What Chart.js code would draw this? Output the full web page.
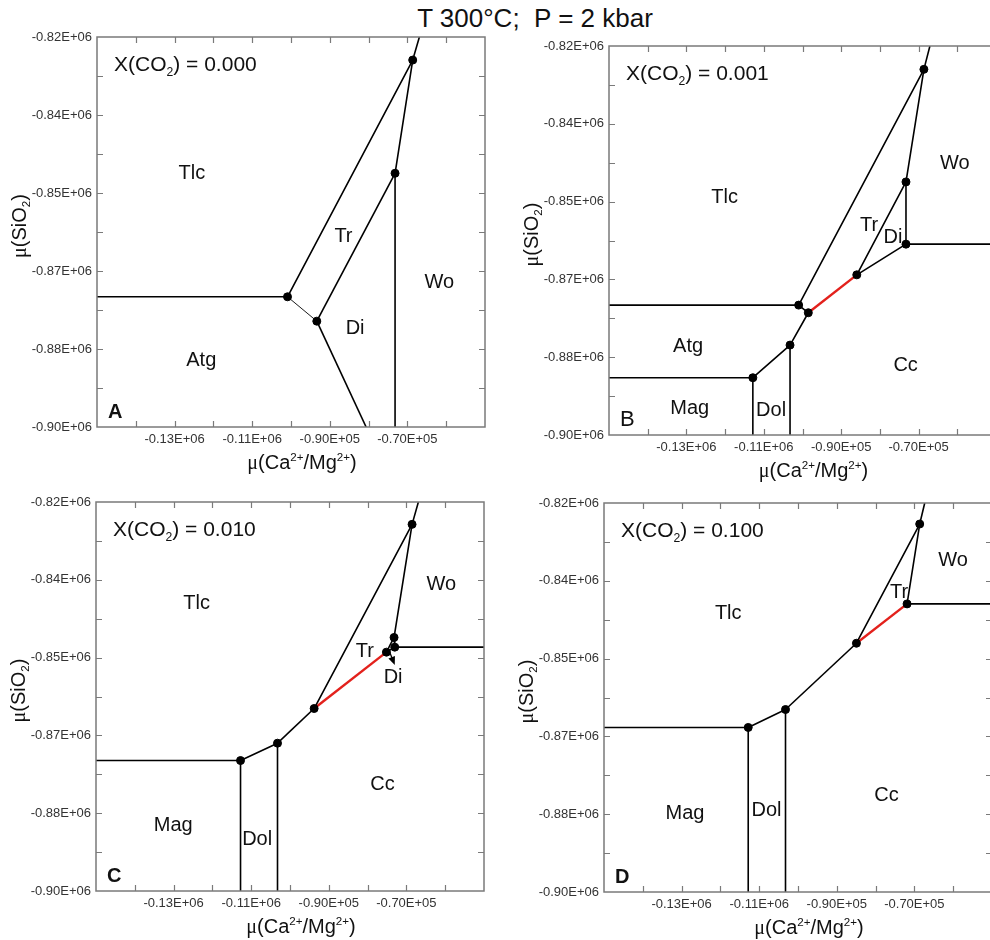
<!DOCTYPE html>
<html lang="en">
<head>
  <meta charset="UTF-8" />
  <title>T 300°C; P = 2 kbar</title>
  <script src="https://cdn.jsdelivr.net/npm/chart.js"></script>
  <style>
    html, body { margin: 0; padding: 0; background: #fff; overflow: hidden; }
    body { width: 990px; height: 940px; position: relative; }
    .title {
      position: absolute; left: 335px; width: 400px; top: 3px;
      text-align: center; white-space: pre;
      font: 26px "Liberation Sans", Arial, sans-serif; line-height: 30px; color: #111;
    }
    canvas { position: absolute; }
  </style>
</head>
<body>
  <div class="title">T 300°C;  P = 2 kbar</div>
  <canvas id="panelA" width="495" height="482" style="left:0;top:0"></canvas>
  <canvas id="panelB" width="510" height="482" style="left:495px;top:0"></canvas>
  <canvas id="panelC" width="495" height="470" style="left:0;top:470px"></canvas>
  <canvas id="panelD" width="510" height="470" style="left:495px;top:470px"></canvas>

<script>
  // axes (same for every panel)
  const xRange = [-150000, -50000];
  const yRange = [-900000, -820000];
  const xTickVals = [-130000, -110000, -90000, -70000];
  const xTickText = ['-0.13E+06', '-0.11E+06', '-0.90E+05', '-0.70E+05'];
  const yTickVals = [-820000, -836000, -852000, -868000, -884000, -900000];
  const yTickText = ['-0.82E+06', '-0.84E+06', '-0.85E+06', '-0.87E+06', '-0.88E+06', '-0.90E+06'];
  const xco2 = ['0.000', '0.001', '0.010', '0.100'];

  // Panel A, X(CO2) = 0.000
  const dotsA = [[-100900, -873290], [-93350, -878290], [-68630, -824730], [-73180, -847950]];
  const linesA = [
    [[-150000, -873290], [-100900, -873290]],
    [[-93350, -878290], [-80640, -900000]],
    [[-100900, -873290], [-68630, -824730], [-66910, -820000]],
    [[-68630, -824730], [-73180, -847950], [-73180, -900000]],
    [[-93350, -878290], [-73180, -847950]]
  ];
  const thinA = [[[-100900, -873290], [-93350, -878290]]];
  const redA = [];
  const namesA = ['Tlc', 'Tr', 'Di', 'Wo', 'Atg'];
  const nameXA = [-125540, -86480, -83480, -61760, -123130];
  const nameYA = [-847950, -860960, -879800, -870410, -886300];

  // Panel B, X(CO2) = 0.001
  const dotsB = [[-100990, -873290], [-68630, -824800], [-98500, -874860], [-85970, -867060],
                 [-73260, -847950], [-73260, -860750], [-103220, -881510], [-112830, -888220]];
  const linesB = [
    [[-150000, -873290], [-100990, -873290], [-68630, -824800], [-67080, -820000]],
    [[-100990, -873290], [-98500, -874860]],
    [[-85970, -867060], [-73260, -847950], [-68630, -824800]],
    [[-85970, -867060], [-73260, -860750], [-50000, -860750]],
    [[-73260, -847950], [-73260, -860750]],
    [[-98500, -874860], [-103220, -881510], [-103220, -900000]],
    [[-103220, -881510], [-112830, -888220], [-150000, -888220]],
    [[-112830, -888220], [-112830, -900000]]
  ];
  const thinB = [];
  const redB = [[[-98500, -874860], [-85970, -867060]]];
  const namesB = ['Tlc', 'Wo', 'Tr', 'Di', 'Atg', 'Cc', 'Mag', 'Dol'];
  const nameXB = [-120130, -60640, -82790, -76610, -129570, -73350, -129140, -108110];
  const nameYB = [-851230, -844180, -856850, -859380, -881850, -885620, -894520, -895000];

  // Panel C, X(CO2) = 0.010
  const dotsC = [[-112750, -873170], [-103220, -869600], [-93780, -862470], [-75150, -850880],
                 [-68540, -824600], [-73180, -847860], [-73000, -849850]];
  const linesC = [
    [[-150000, -873170], [-112750, -873170], [-112750, -900000]],
    [[-112750, -873170], [-103220, -869600], [-103220, -900000]],
    [[-103220, -869600], [-93780, -862470]],
    [[-93780, -862470], [-68540, -824600], [-66910, -820000]],
    [[-68540, -824600], [-73180, -847860], [-73000, -849850], [-50000, -849850]],
    [[-75150, -850880], [-73180, -847860]],
    [[-75150, -850880], [-73000, -849850]]
  ];
  const thinC = [];
  const redC = [[[-93780, -862470], [-75150, -850880]]];
  const namesC = ['Tlc', 'Wo', 'Tr', 'Di', 'Cc', 'Mag', 'Dol'];
  const nameXC = [-124080, -60990, -80730, -73430, -76180, -130090, -108460];
  const nameYC = [-840790, -837020, -850740, -856020, -878050, -886620, -889500];
  const arrowC = [-74300, -850900, -73000, -853500];

  // Panel D, X(CO2) = 0.100
  const dotsD = [[-112830, -866160], [-103220, -862470], [-84940, -848840], [-71890, -840750], [-68630, -824320]];
  const linesD = [
    [[-150000, -866160], [-112830, -866160], [-112830, -900000]],
    [[-112830, -866160], [-103220, -862470], [-103220, -900000]],
    [[-103220, -862470], [-84940, -848840]],
    [[-84940, -848840], [-68630, -824320], [-67340, -820000]],
    [[-68630, -824320], [-71890, -840750], [-50000, -840750]]
  ];
  const thinD = [];
  const redD = [[[-84940, -848840], [-71890, -840750]]];
  const namesD = ['Tlc', 'Wo', 'Tr', 'Cc', 'Mag', 'Dol'];
  const nameXD = [-117980, -60040, -73950, -77210, -129140, -108110];
  const nameYD = [-842740, -831780, -838490, -880070, -883840, -883150];

  const SANS = '"Liberation Sans", Arial, sans-serif';
  const SERIF = '"Liberation Serif", "Times New Roman", serif';
  const FRAME = '#7a7a7a';

  // draws text made of pieces: [text, kind] with kind n / mu / sub / sup
  function richText(ctx, parts, x, y, size, center) {
    const fontFor = k => (k === 'sub' || k === 'sup') ? (size * 0.58) + 'px ' + SANS
      : k === 'mu' ? size + 'px ' + SERIF : size + 'px ' + SANS;
    let w = 0;
    parts.forEach(p => { ctx.font = fontFor(p[1]); w += ctx.measureText(p[0]).width; });
    let cx = center ? x - w / 2 : x;
    ctx.textAlign = 'left';
    ctx.textBaseline = 'alphabetic';
    parts.forEach(p => {
      ctx.font = fontFor(p[1]);
      const dy = p[1] === 'sub' ? size * 0.22 : p[1] === 'sup' ? -size * 0.42 : 0;
      ctx.fillText(p[0], cx, y + dy);
      cx += ctx.measureText(p[0]).width;
    });
  }

  function toPts(line) {
    return line.map(p => ({ x: p[0], y: p[1] }));
  }

  function makePanel(id, area, dots, lines, thin, red, names, nx, ny, letter, letterBold, co2, arrow) {
    const cv = document.getElementById(id);
    const W = cv.width, H = cv.height;

    const datasets = [{
      data: toPts(dots), showLine: false, pointRadius: 4, pointHoverRadius: 4,
      pointBackgroundColor: '#000', pointBorderColor: '#000', order: 0
    }];
    lines.forEach(l => datasets.push({
      data: toPts(l), showLine: true, borderColor: '#000', borderWidth: 1.6,
      pointRadius: 0, borderJoinStyle: 'round', order: 2
    }));
    thin.forEach(l => datasets.push({
      data: toPts(l), showLine: true, borderColor: '#000', borderWidth: 0.9,
      pointRadius: 0, order: 2
    }));
    red.forEach(l => datasets.push({
      data: toPts(l), showLine: true, borderColor: '#e3211c', borderWidth: 2.4,
      pointRadius: 0, order: 1
    }));

    const decor = {
      id: 'decor',
      afterDatasetsDraw(chart) {
        const ctx = chart.ctx, a = chart.chartArea;
        const xs = chart.scales.x, ys = chart.scales.y;
        ctx.save();
        // frame + inward ticks
        ctx.strokeStyle = FRAME;
        ctx.lineWidth = 1.5;
        ctx.strokeRect(a.left, a.top, a.right - a.left, a.bottom - a.top);
        ctx.lineWidth = 1.2;
        ctx.beginPath();
        xs.ticks.forEach(t => {
          if (t.value <= xRange[0] || t.value >= xRange[1]) return;
          const px = Math.round(xs.getPixelForValue(t.value)) + 0.5;
          ctx.moveTo(px, a.bottom); ctx.lineTo(px, a.bottom - 6);
          ctx.moveTo(px, a.top); ctx.lineTo(px, a.top + 6);
        });
        ys.ticks.forEach(t => {
          if (t.value <= yRange[0] || t.value >= yRange[1]) return;
          const py = Math.round(ys.getPixelForValue(t.value)) + 0.5;
          ctx.moveTo(a.left, py); ctx.lineTo(a.left + 6, py);
          ctx.moveTo(a.right, py); ctx.lineTo(a.right - 6, py);
        });
        ctx.stroke();

        // field names
        ctx.fillStyle = '#111';
        ctx.font = '20px ' + SANS;
        ctx.textAlign = 'center';
        ctx.textBaseline = 'middle';
        names.forEach((n, i) => {
          ctx.fillText(n, xs.getPixelForValue(nx[i]), ys.getPixelForValue(ny[i]));
        });

        // arrow pointing at the Di field
        if (arrow) {
          const x1 = xs.getPixelForValue(arrow[0]), y1 = ys.getPixelForValue(arrow[1]);
          const x2 = xs.getPixelForValue(arrow[2]), y2 = ys.getPixelForValue(arrow[3]);
          const ang = Math.atan2(y2 - y1, x2 - x1);
          ctx.strokeStyle = '#000';
          ctx.lineWidth = 1.3;
          ctx.beginPath(); ctx.moveTo(x1, y1); ctx.lineTo(x2 - 5 * Math.cos(ang), y2 - 5 * Math.sin(ang)); ctx.stroke();
          ctx.fillStyle = '#000';
          ctx.beginPath();
          ctx.moveTo(x2, y2);
          ctx.lineTo(x2 - 9 * Math.cos(ang - 0.4), y2 - 9 * Math.sin(ang - 0.4));
          ctx.lineTo(x2 - 9 * Math.cos(ang + 0.4), y2 - 9 * Math.sin(ang + 0.4));
          ctx.closePath(); ctx.fill();
          ctx.fillStyle = '#111';
        }

        // X(CO2) caption
        richText(ctx, [['X(CO', 'n'], ['2', 'sub'], [') = ' + co2, 'n']], a.left + 17, a.top + 34, 21, false);

        // panel letter
        ctx.font = (letterBold ? 'bold 20px ' : '22px ') + SANS;
        ctx.textAlign = 'left';
        ctx.textBaseline = 'alphabetic';
        ctx.fillText(letter, a.left + 11, a.bottom - 9);

        // axis titles
        const midX = (a.left + a.right) / 2 + 11;
        richText(ctx, [['\u03bc', 'mu'], ['(Ca', 'n'], ['2+', 'sup'], ['/Mg', 'n'], ['2+', 'sup'], [')', 'n']],
          midX, a.bottom + 42, 20, true);
        ctx.translate(a.left - 78 + 7, (a.top + a.bottom) / 2 - 6);
        ctx.rotate(-Math.PI / 2);
        richText(ctx, [['\u03bc', 'mu'], ['(SiO', 'n'], ['2', 'sub'], [')', 'n']], 0, 0, 20, true);
        ctx.restore();
      }
    };

    return new Chart(cv, {
      type: 'scatter',
      data: { datasets },
      options: {
        responsive: false,
        animation: false,
        devicePixelRatio: 1,
        layout: { padding: { left: 0, top: area[1], right: W - area[2], bottom: 0 } },
        plugins: { legend: { display: false }, tooltip: { enabled: false } },
        events: [],
        scales: {
          x: {
            type: 'linear', min: xRange[0], max: xRange[1],
            grid: { display: false, drawTicks: false },
            border: { display: false },
            ticks: {
              stepSize: 10000, autoSkip: false, maxRotation: 0, padding: 5,
              color: '#333', font: { family: SANS, size: 13 },
              callback: v => { const i = xTickVals.indexOf(v); return i >= 0 ? xTickText[i] : ''; }
            },
            afterFit: s => { s.height = H - area[3]; }
          },
          y: {
            type: 'linear', min: yRange[0], max: yRange[1],
            grid: { display: false, drawTicks: false },
            border: { display: false },
            ticks: {
              stepSize: 8000, autoSkip: false, padding: 5,
              color: '#333', font: { family: SANS, size: 13 },
              callback: v => { const i = yTickVals.indexOf(v); return i >= 0 ? yTickText[i] : ''; }
            },
            afterFit: s => { s.width = area[0]; }
          }
        }
      },
      plugins: [decor]
    });
  }

  // plot rectangles inside each canvas: left, top, right, bottom
  makePanel('panelA', [97, 37, 485, 427], dotsA, linesA, thinA, redA, namesA, nameXA, nameYA, 'A', true, xco2[0], null);
  makePanel('panelB', [114, 46, 501, 435], dotsB, linesB, thinB, redB, namesB, nameXB, nameYB, 'B', false, xco2[1], null);
  makePanel('panelC', [96, 32, 484, 421], dotsC, linesC, thinC, redC, namesC, nameXC, nameYC, 'C', true, xco2[2], arrowC);
  makePanel('panelD', [109, 33, 497, 422], dotsD, linesD, thinD, redD, namesD, nameXD, nameYD, 'D', true, xco2[3], null);
</script>
</body>
</html>
